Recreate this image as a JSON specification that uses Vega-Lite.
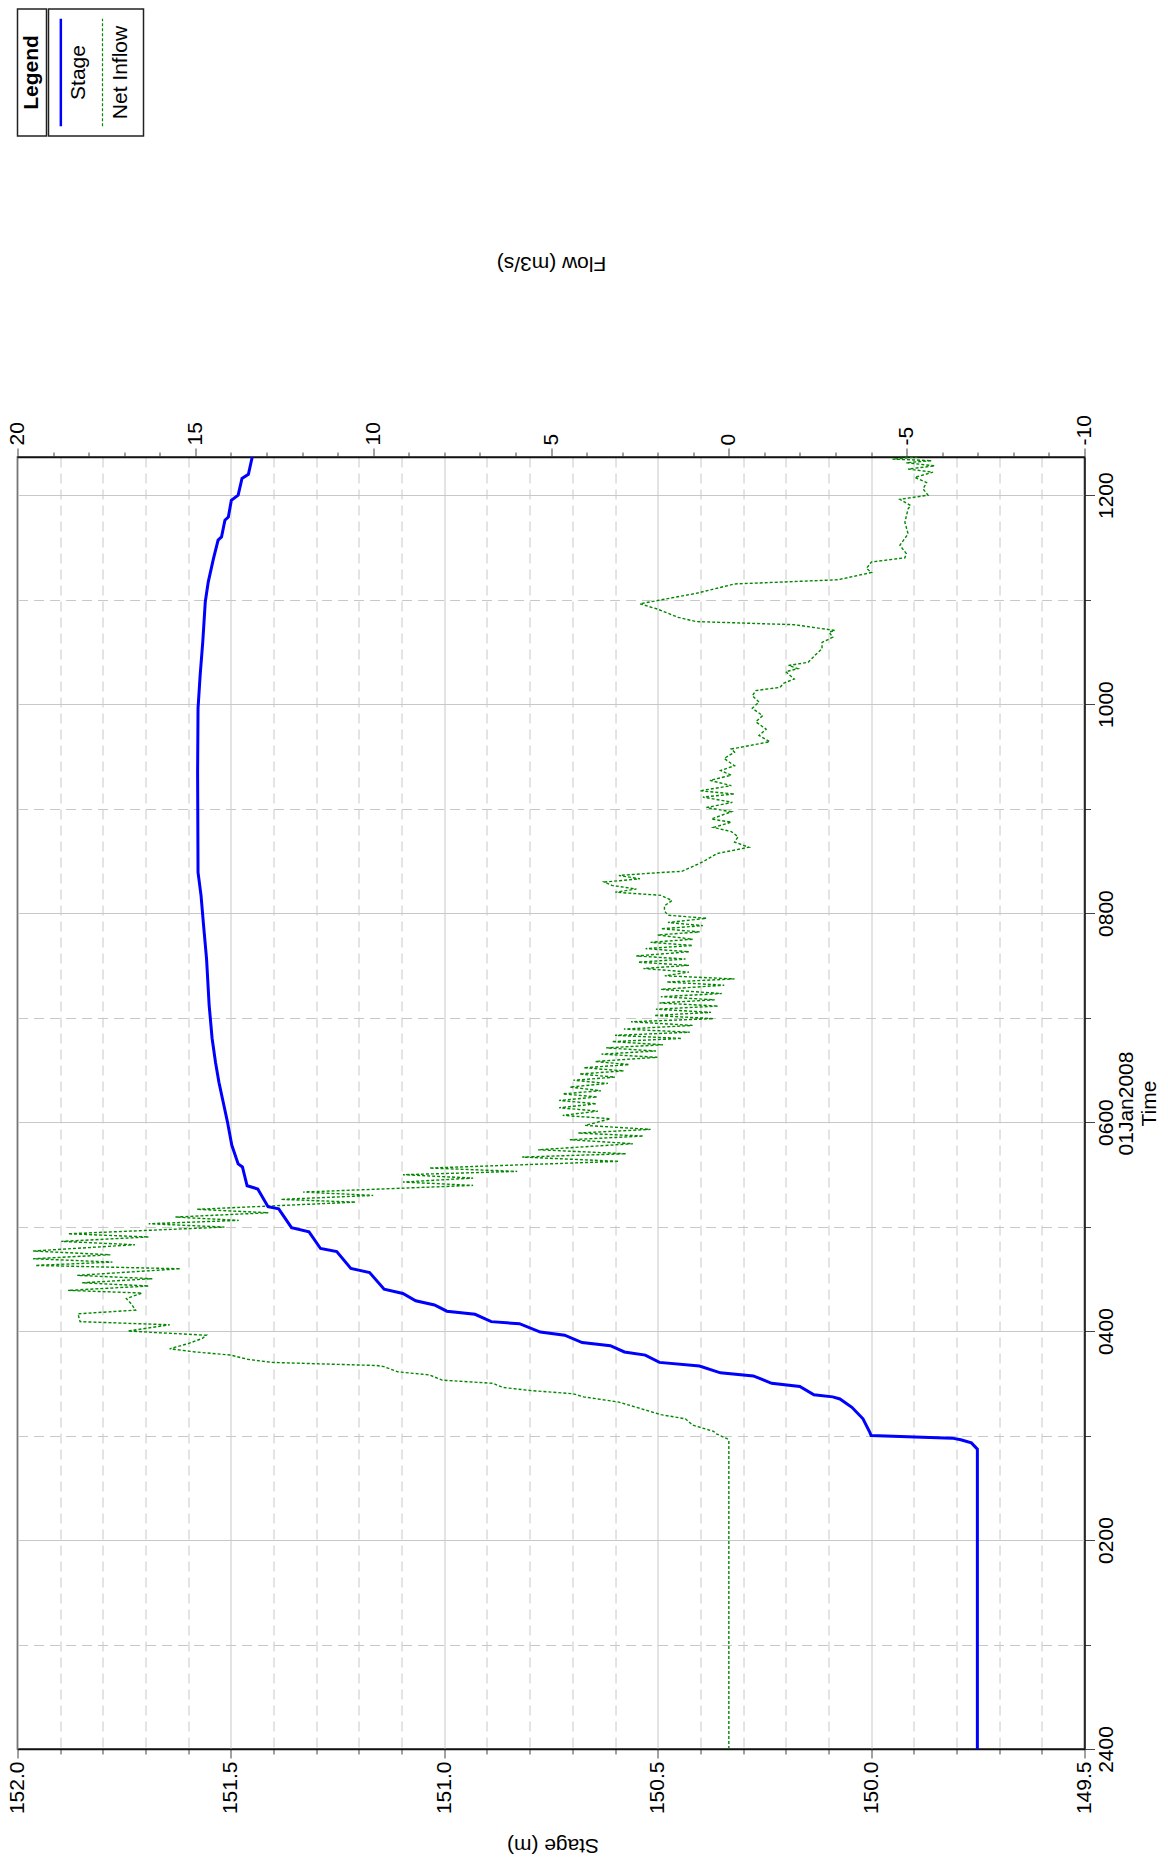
{
  "$schema": "https://vega.github.io/schema/vega-lite/v6.json",
  "background": "white",
  "padding": {"left": 5.5, "top": 8, "right": 0, "bottom": 0},
  "config": {
    "font": "Liberation Sans",
    "view": {"stroke": "#222222", "strokeWidth": 1.5},
    "axis": {
      "labelFont": "Liberation Sans", "titleFont": "Liberation Sans",
      "labelFontSize": 21, "titleFontSize": 21, "titleFontWeight": "normal",
      "labelColor": "black", "titleColor": "black",
      "domainColor": "#111111", "domainWidth": 1.5,
      "tickColor": "#444444", "tickWidth": 1,
      "gridColor": "#c8c8c8", "gridWidth": 1,
      "labelOverlap": false, "labelFlush": false
    }
  },
  "datasets": {
    "legendTitle": [{"label": "Legend"}],
    "legend": [{"series": "Stage"}, {"series": "Net Inflow"}],
    "stage": [
      {"t": 0, "s": 149.751}, {"t": 2.87, "s": 149.751}, {"t": 2.93, "s": 149.765}, {"t": 2.96, "s": 149.79},
      {"t": 2.975, "s": 149.81}, {"t": 3.0, "s": 150.0}, {"t": 3.03, "s": 150.003}, {"t": 3.16, "s": 150.019},
      {"t": 3.27, "s": 150.045}, {"t": 3.35, "s": 150.073}, {"t": 3.37, "s": 150.09}, {"t": 3.39, "s": 150.134},
      {"t": 3.47, "s": 150.167}, {"t": 3.5, "s": 150.233}, {"t": 3.57, "s": 150.276}, {"t": 3.6, "s": 150.353},
      {"t": 3.665, "s": 150.402}, {"t": 3.7, "s": 150.496}, {"t": 3.77, "s": 150.529}, {"t": 3.8, "s": 150.578},
      {"t": 3.86, "s": 150.611}, {"t": 3.89, "s": 150.677}, {"t": 3.96, "s": 150.718}, {"t": 3.99, "s": 150.775},
      {"t": 4.07, "s": 150.824}, {"t": 4.09, "s": 150.89}, {"t": 4.16, "s": 150.928}, {"t": 4.19, "s": 150.994},
      {"t": 4.25, "s": 151.023}, {"t": 4.29, "s": 151.067}, {"t": 4.36, "s": 151.097}, {"t": 4.4, "s": 151.141},
      {"t": 4.56, "s": 151.175}, {"t": 4.6, "s": 151.219}, {"t": 4.76, "s": 151.252}, {"t": 4.79, "s": 151.29},
      {"t": 4.95, "s": 151.317}, {"t": 4.99, "s": 151.358}, {"t": 5.17, "s": 151.388}, {"t": 5.19, "s": 151.413},
      {"t": 5.36, "s": 151.437}, {"t": 5.39, "s": 151.462}, {"t": 5.57, "s": 151.473}, {"t": 5.6, "s": 151.483},
      {"t": 5.78, "s": 151.498}, {"t": 6.0, "s": 151.508}, {"t": 6.19, "s": 151.518}, {"t": 6.38, "s": 151.528},
      {"t": 6.57, "s": 151.536}, {"t": 6.8, "s": 151.544}, {"t": 7.12, "s": 151.551}, {"t": 7.56, "s": 151.557},
      {"t": 7.88, "s": 151.564}, {"t": 8.17, "s": 151.57}, {"t": 8.39, "s": 151.577}, {"t": 9.35, "s": 151.578},
      {"t": 9.96, "s": 151.577}, {"t": 10.28, "s": 151.572}, {"t": 10.59, "s": 151.566}, {"t": 10.98, "s": 151.56},
      {"t": 11.17, "s": 151.553}, {"t": 11.39, "s": 151.541}, {"t": 11.57, "s": 151.53}, {"t": 11.6, "s": 151.522},
      {"t": 11.76, "s": 151.514}, {"t": 11.79, "s": 151.506}, {"t": 11.95, "s": 151.499}, {"t": 12.0, "s": 151.483},
      {"t": 12.16, "s": 151.474}, {"t": 12.2, "s": 151.459}, {"t": 12.365, "s": 151.45}
    ],
    "flow": [
      {"t": 0, "f": 0.0}, {"t": 2.95, "f": 0.0}, {"t": 2.97, "f": 0.05}, {"t": 3.016, "f": 0.35},
      {"t": 3.04, "f": 0.43}, {"t": 3.1, "f": 1.02}, {"t": 3.16, "f": 1.22}, {"t": 3.2, "f": 1.91},
      {"t": 3.27, "f": 2.6}, {"t": 3.32, "f": 3.09}, {"t": 3.37, "f": 4.08}, {"t": 3.4, "f": 4.38},
      {"t": 3.43, "f": 5.56}, {"t": 3.46, "f": 6.35}, {"t": 3.5, "f": 6.64}, {"t": 3.53, "f": 8.06},
      {"t": 3.58, "f": 8.42}, {"t": 3.61, "f": 9.31}, {"t": 3.66, "f": 9.7}, {"t": 3.67, "f": 9.9},
      {"t": 3.7, "f": 12.85}, {"t": 3.73, "f": 13.54}, {"t": 3.77, "f": 14.0}, {"t": 3.8, "f": 15.0},
      {"t": 3.83, "f": 15.72}, {"t": 3.88, "f": 15.2}, {"t": 3.93, "f": 14.8}, {"t": 3.96, "f": 14.69},
      {"t": 4.0, "f": 16.9}, {"t": 4.06, "f": 15.72}, {"t": 4.09, "f": 18.24}, {"t": 4.165, "f": 18.3},
      {"t": 4.2, "f": 16.68}, {"t": 4.26, "f": 16.8}, {"t": 4.31, "f": 16.94}, {"t": 4.364, "f": 16.5},
      {"t": 4.389, "f": 18.58}, {"t": 4.431, "f": 16.31}, {"t": 4.462, "f": 18.18}, {"t": 4.501, "f": 16.21},
      {"t": 4.533, "f": 18.32}, {"t": 4.596, "f": 15.42}, {"t": 4.628, "f": 19.5}, {"t": 4.66, "f": 17.33},
      {"t": 4.692, "f": 19.56}, {"t": 4.73, "f": 17.39}, {"t": 4.766, "f": 19.56}, {"t": 4.826, "f": 16.7},
      {"t": 4.858, "f": 18.77}, {"t": 4.9, "f": 16.31}, {"t": 4.931, "f": 18.58}, {"t": 4.995, "f": 14.18},
      {"t": 5.027, "f": 16.31}, {"t": 5.059, "f": 13.78}, {"t": 5.091, "f": 15.56}, {"t": 5.132, "f": 12.95},
      {"t": 5.165, "f": 14.96}, {"t": 5.234, "f": 10.49}, {"t": 5.26, "f": 12.6}, {"t": 5.298, "f": 10.0},
      {"t": 5.33, "f": 11.97}, {"t": 5.394, "f": 7.19}, {"t": 5.426, "f": 9.16}, {"t": 5.464, "f": 7.19},
      {"t": 5.496, "f": 9.16}, {"t": 5.528, "f": 5.95}, {"t": 5.56, "f": 8.42}, {"t": 5.624, "f": 3.09},
      {"t": 5.665, "f": 5.81}, {"t": 5.697, "f": 2.89}, {"t": 5.735, "f": 5.36}, {"t": 5.793, "f": 2.7},
      {"t": 5.831, "f": 4.47}, {"t": 5.866, "f": 2.4}, {"t": 5.895, "f": 4.24}, {"t": 5.93, "f": 2.2},
      {"t": 5.968, "f": 4.04}, {"t": 6.032, "f": 3.33}, {"t": 6.064, "f": 4.67}, {"t": 6.105, "f": 3.68},
      {"t": 6.137, "f": 4.77}, {"t": 6.175, "f": 3.72}, {"t": 6.207, "f": 4.77}, {"t": 6.24, "f": 3.7},
      {"t": 6.27, "f": 4.67}, {"t": 6.3, "f": 3.6}, {"t": 6.335, "f": 4.47}, {"t": 6.37, "f": 3.4},
      {"t": 6.4, "f": 4.37}, {"t": 6.43, "f": 3.2}, {"t": 6.46, "f": 4.2}, {"t": 6.49, "f": 2.95},
      {"t": 6.52, "f": 4.08}, {"t": 6.55, "f": 2.8}, {"t": 6.58, "f": 3.75}, {"t": 6.62, "f": 2.01},
      {"t": 6.65, "f": 3.58}, {"t": 6.68, "f": 2.05}, {"t": 6.71, "f": 3.45}, {"t": 6.74, "f": 1.85},
      {"t": 6.77, "f": 3.29}, {"t": 6.8, "f": 1.32}, {"t": 6.83, "f": 3.2}, {"t": 6.86, "f": 1.1},
      {"t": 6.89, "f": 2.95}, {"t": 6.925, "f": 1.02}, {"t": 6.96, "f": 2.75}, {"t": 6.99, "f": 0.43},
      {"t": 7.02, "f": 2.1}, {"t": 7.05, "f": 0.5}, {"t": 7.08, "f": 2.05}, {"t": 7.11, "f": 0.3},
      {"t": 7.14, "f": 1.95}, {"t": 7.17, "f": 0.4}, {"t": 7.2, "f": 1.91}, {"t": 7.23, "f": 0.2},
      {"t": 7.27, "f": 1.91}, {"t": 7.31, "f": 0.13}, {"t": 7.34, "f": 1.75}, {"t": 7.37, "f": -0.16},
      {"t": 7.4, "f": 1.8}, {"t": 7.435, "f": 1.12}, {"t": 7.47, "f": 2.4}, {"t": 7.5, "f": 1.12},
      {"t": 7.53, "f": 2.55}, {"t": 7.56, "f": 1.22}, {"t": 7.59, "f": 2.6}, {"t": 7.63, "f": 1.12},
      {"t": 7.66, "f": 2.34}, {"t": 7.69, "f": 1.02}, {"t": 7.72, "f": 2.2}, {"t": 7.75, "f": 1.02},
      {"t": 7.79, "f": 2.0}, {"t": 7.82, "f": 0.82}, {"t": 7.85, "f": 1.91}, {"t": 7.88, "f": 0.73},
      {"t": 7.91, "f": 1.71}, {"t": 7.95, "f": 0.63}, {"t": 7.98, "f": 1.71}, {"t": 8.02, "f": 1.81},
      {"t": 8.07, "f": 1.81}, {"t": 8.12, "f": 1.6}, {"t": 8.17, "f": 1.91}, {"t": 8.2, "f": 3.19},
      {"t": 8.23, "f": 2.6}, {"t": 8.265, "f": 3.29}, {"t": 8.297, "f": 3.5}, {"t": 8.328, "f": 2.5},
      {"t": 8.36, "f": 3.09}, {"t": 8.386, "f": 2.01}, {"t": 8.4, "f": 1.32}, {"t": 8.49, "f": 0.73},
      {"t": 8.57, "f": 0.33}, {"t": 8.63, "f": -0.56}, {"t": 8.68, "f": -0.16}, {"t": 8.73, "f": -0.26},
      {"t": 8.78, "f": -0.07}, {"t": 8.82, "f": 0.43}, {"t": 8.87, "f": -0.07}, {"t": 8.9, "f": 0.49},
      {"t": 8.97, "f": -0.07}, {"t": 9.01, "f": 0.63}, {"t": 9.06, "f": -0.1}, {"t": 9.11, "f": 0.73},
      {"t": 9.14, "f": -0.16}, {"t": 9.17, "f": 0.82}, {"t": 9.22, "f": -0.07}, {"t": 9.27, "f": 0.53},
      {"t": 9.32, "f": -0.07}, {"t": 9.365, "f": 0.23}, {"t": 9.41, "f": -0.16}, {"t": 9.48, "f": 0.13},
      {"t": 9.54, "f": -0.16}, {"t": 9.57, "f": -0.07}, {"t": 9.64, "f": -1.15}, {"t": 9.7, "f": -0.85},
      {"t": 9.76, "f": -1.05}, {"t": 9.83, "f": -0.76}, {"t": 9.89, "f": -0.95}, {"t": 9.96, "f": -0.66},
      {"t": 10.02, "f": -0.85}, {"t": 10.08, "f": -0.66}, {"t": 10.13, "f": -0.76}, {"t": 10.16, "f": -1.44},
      {"t": 10.2, "f": -1.54}, {"t": 10.24, "f": -1.84}, {"t": 10.31, "f": -1.6}, {"t": 10.34, "f": -1.94},
      {"t": 10.37, "f": -1.68}, {"t": 10.4, "f": -2.23}, {"t": 10.47, "f": -2.43}, {"t": 10.53, "f": -2.62},
      {"t": 10.59, "f": -2.62}, {"t": 10.64, "f": -2.92}, {"t": 10.69, "f": -2.82}, {"t": 10.705, "f": -2.98},
      {"t": 10.76, "f": -1.84}, {"t": 10.79, "f": 0.92}, {"t": 10.83, "f": 1.42}, {"t": 10.91, "f": 2.01},
      {"t": 10.96, "f": 2.5}, {"t": 11.06, "f": 0.92}, {"t": 11.15, "f": -0.16}, {"t": 11.19, "f": -3.07},
      {"t": 11.26, "f": -4.01}, {"t": 11.3, "f": -3.87}, {"t": 11.36, "f": -4.01}, {"t": 11.4, "f": -4.95},
      {"t": 11.44, "f": -4.99}, {"t": 11.52, "f": -4.81}, {"t": 11.63, "f": -5.04}, {"t": 11.74, "f": -4.95},
      {"t": 11.87, "f": -5.04}, {"t": 11.9, "f": -5.11}, {"t": 11.96, "f": -4.81}, {"t": 12.0, "f": -5.6},
      {"t": 12.06, "f": -5.46}, {"t": 12.12, "f": -5.56}, {"t": 12.17, "f": -5.23}, {"t": 12.22, "f": -5.74},
      {"t": 12.25, "f": -5.04}, {"t": 12.28, "f": -5.79}, {"t": 12.31, "f": -4.99}, {"t": 12.33, "f": -5.7},
      {"t": 12.345, "f": -4.6}, {"t": 12.365, "f": -5.3}
    ]
  },
  "bounds": "flush",
  "spacing": 448,
  "vconcat": [
    {
      "spacing": 0,
      "hconcat": [
        {
          "width": 29, "height": 127,
          "data": {"name": "legendTitle"},
          "mark": {"type": "text", "angle": -90, "fontSize": 21, "fontWeight": "bold", "font": "Liberation Sans", "color": "black"},
          "encoding": {
            "x": {"field": "label", "type": "nominal", "scale": {"type": "band", "paddingInner": 0, "paddingOuter": 0}, "axis": null},
            "text": {"field": "label", "type": "nominal"}
          }
        },
        {
          "width": 95, "height": 127,
          "data": {"name": "legend"},
          "layer": [
            {
              "mark": {"type": "rule"},
              "encoding": {
                "x": {"field": "series", "type": "nominal", "sort": ["Stage", "Net Inflow"], "bandPosition": 0.156,
                      "scale": {"type": "band", "paddingInner": 0, "paddingOuter": 0.14}, "axis": null},
                "y": {"datum": 0, "type": "quantitative", "scale": {"domain": [-0.09, 1.09]}, "axis": null},
                "y2": {"datum": 1},
                "color": {"field": "series", "type": "nominal", "scale": {"domain": ["Stage", "Net Inflow"], "range": ["#0000ff", "#008800"]}, "legend": null},
                "strokeDash": {"field": "series", "type": "nominal", "scale": {"domain": ["Stage", "Net Inflow"], "range": [[1, 0], [3, 2]]}, "legend": null},
                "strokeWidth": {"field": "series", "type": "nominal", "scale": {"domain": ["Stage", "Net Inflow"], "range": [2.5, 1.2]}, "legend": null}
              }
            },
            {
              "mark": {"type": "text", "angle": -90, "fontSize": 21, "font": "Liberation Sans", "color": "black"},
              "encoding": {
                "x": {"field": "series", "type": "nominal", "sort": ["Stage", "Net Inflow"], "bandPosition": 0.6},
                "text": {"field": "series", "type": "nominal"}
              }
            }
          ]
        }
      ]
    },
    {
      "width": 1067, "height": 1292,
      "layer": [
        {
          "data": {"name": "flow"},
          "mark": {"type": "line", "color": "#008800", "strokeWidth": 1.4, "strokeDash": [3, 2], "clip": true},
          "encoding": {
            "x": {
              "field": "f", "type": "quantitative",
              "scale": {"domain": [-10, 20], "reverse": true, "nice": false, "zero": false},
              "axis": {
                "orient": "top",
                "values": [-10, -9, -8, -7, -6, -5, -4, -3, -2, -1, 0, 1, 2, 3, 4, 5, 6, 7, 8, 9, 10, 11, 12, 13, 14, 15, 16, 17, 18, 19, 20],
                "labelExpr": "datum.value % 5 === 0 ? '' + datum.value : ''",
                "tickSize": {"condition": {"test": "datum.value % 5 === 0", "value": 9}, "value": 5},
                "grid": false,
                "labelAngle": -90, "labelAlign": "left", "labelBaseline": "middle", "labelPadding": 3,
                "title": "Flow (m3/s)", "titleAngle": 180, "titleX": 533.5, "titleY": -195,
                "titleAlign": "center", "titleBaseline": "middle"
              }
            },
            "y": {
              "field": "t", "type": "quantitative",
              "scale": {"domain": [0, 12.365], "nice": false, "zero": false},
              "axis": {
                "orient": "right",
                "values": [0, 1, 2, 3, 4, 5, 6, 7, 8, 9, 10, 11, 12],
                "labelExpr": "datum.value % 2 === 0 ? (datum.value === 0 ? '2400' : (datum.value < 10 ? '0' + datum.value : '' + datum.value) + '00') : ''",
                "tickSize": {"condition": {"test": "datum.value % 2 === 0", "value": 10}, "value": 6},
                "grid": true,
                "gridDash": {"condition": {"test": "datum.value % 2 === 0", "value": []}, "value": [10, 6]},
                "labelAngle": -90, "labelAlign": "center", "labelBaseline": "top", "labelPadding": 1,
                "title": ["01Jan2008", "Time"], "titleAngle": -90, "titleX": 31, "titleY": 646,
                "titleAlign": "center", "titleBaseline": "top", "titleLineHeight": 23
              }
            },
            "order": {"field": "t", "type": "quantitative"}
          }
        },
        {
          "data": {"name": "stage"},
          "mark": {"type": "line", "color": "#0000ff", "strokeWidth": 3, "clip": true},
          "encoding": {
            "x": {
              "field": "s", "type": "quantitative",
              "scale": {"domain": [149.5, 152.0], "reverse": true, "nice": false, "zero": false},
              "axis": {
                "orient": "bottom",
                "values": [149.5, 149.6, 149.7, 149.8, 149.9, 150.0, 150.1, 150.2, 150.3, 150.4, 150.5, 150.6, 150.7, 150.8, 150.9, 151.0, 151.1, 151.2, 151.3, 151.4, 151.5, 151.6, 151.7, 151.8, 151.9, 152.0],
                "labelExpr": "abs(datum.value * 2 - round(datum.value * 2)) < 0.001 ? format(datum.value, '.1f') : ''",
                "tickSize": {"condition": {"test": "abs(datum.value * 2 - round(datum.value * 2)) < 0.001", "value": 9}, "value": 5},
                "grid": true,
                "gridDash": {"condition": {"test": "abs(datum.value * 2 - round(datum.value * 2)) < 0.001", "value": []}, "value": [10, 6]},
                "labelAngle": -90, "labelAlign": "right", "labelBaseline": "middle", "labelPadding": 3,
                "title": "Stage (m)", "titleAngle": 180, "titleX": 535, "titleY": 95,
                "titleAlign": "center", "titleBaseline": "middle"
              }
            },
            "y": {"field": "t", "type": "quantitative"},
            "order": {"field": "t", "type": "quantitative"}
          }
        }
      ],
      "resolve": {"scale": {"x": "independent"}, "axis": {"x": "independent"}}
    }
  ]
}
